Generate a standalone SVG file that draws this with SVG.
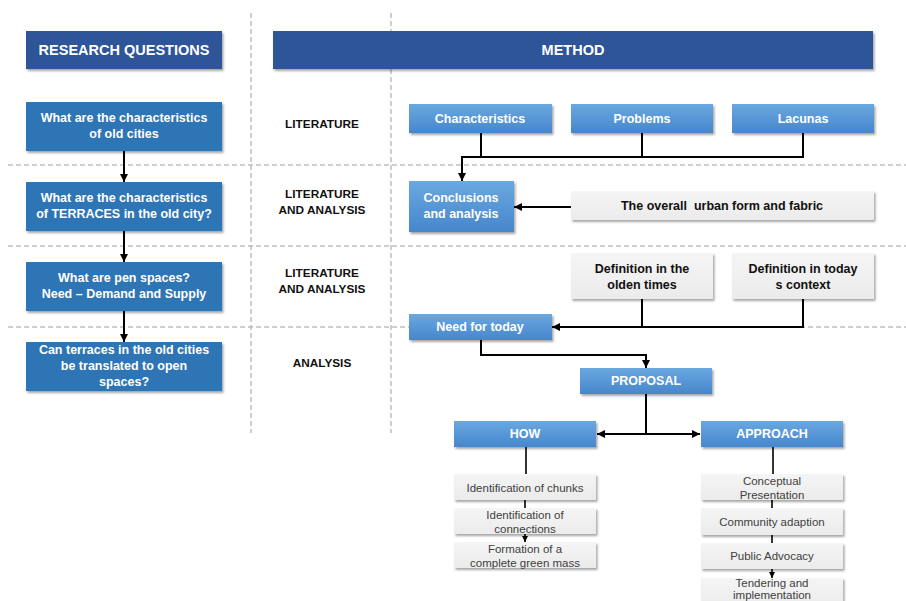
<svg xmlns="http://www.w3.org/2000/svg" width="906" height="601" viewBox="0 0 906 601">
<defs>
<linearGradient id="gBlue" x1="0" y1="0" x2="0" y2="1">
<stop offset="0" stop-color="#6AA8E0"/>
<stop offset="1" stop-color="#4686CC"/>
</linearGradient>
<linearGradient id="gGray" x1="0" y1="0" x2="0" y2="1">
<stop offset="0" stop-color="#F5F5F5"/>
<stop offset="1" stop-color="#EBEBEB"/>
</linearGradient>
<filter id="sh" x="-10%" y="-20%" width="130%" height="160%">
<feDropShadow dx="1.5" dy="2" stdDeviation="1.3" flood-color="#000" flood-opacity="0.35"/>
</filter>
<marker id="ah" viewBox="0 0 10 10" refX="10" refY="5" markerWidth="4" markerHeight="4" orient="auto" markerUnits="strokeWidth">
<path d="M0 0 L10 5 L0 10 z" fill="#000"/>
</marker>
</defs>
<style>
.hdr{fill:#2F5597;filter:url(#sh)}
.q{fill:#2E75B6;filter:url(#sh)}
.b{fill:url(#gBlue);filter:url(#sh)}
.g{fill:url(#gGray);filter:url(#sh)}
.wt{font-family:"Liberation Sans",Arial,sans-serif;font-weight:bold;fill:#fff;text-anchor:middle;font-size:12.5px}
.ht{font-family:"Liberation Sans",Arial,sans-serif;font-weight:bold;fill:#fff;text-anchor:middle;font-size:14.5px}
.kt{font-family:"Liberation Sans",Arial,sans-serif;font-weight:bold;fill:#111;text-anchor:middle;font-size:12.5px}
.mt{font-family:"Liberation Sans",Arial,sans-serif;font-weight:bold;fill:#111;text-anchor:middle;font-size:11.8px}
.nt{font-family:"Liberation Sans",Arial,sans-serif;fill:#404040;text-anchor:middle;font-size:11.5px}
.dash{stroke:#BFBFBF;stroke-width:1.5;stroke-dasharray:5,3;fill:none}
.c{stroke:#000;stroke-width:2;fill:none}
.cs{stroke:#000;stroke-width:1.6;fill:none}
</style>
<rect width="906" height="601" fill="#fff"/>
<g id="grid">
<line class="dash" x1="251" y1="13" x2="251" y2="433"/>
<line class="dash" x1="391" y1="13" x2="391" y2="433"/>
<line class="dash" x1="8" y1="165" x2="906" y2="165"/>
<line class="dash" x1="8" y1="246" x2="906" y2="246"/>
<line class="dash" x1="8" y1="327" x2="906" y2="327"/>
</g>
<g id="hdr-rq"><rect class="hdr" x="26" y="31" width="196" height="38"/><text class="ht" x="124" y="55">RESEARCH QUESTIONS</text></g>
<g id="hdr-method"><rect class="hdr" x="273" y="31" width="600" height="38"/><text class="ht" x="573" y="55">METHOD</text></g>
<g id="q1"><rect class="q" x="26" y="102" width="196" height="49"/><text class="wt" x="124" y="122">What are the characteristics</text><text class="wt" x="124" y="138">of old cities</text></g>
<g id="q2"><rect class="q" x="26" y="182" width="196" height="49"/><text class="wt" x="124" y="202">What are the characteristics</text><text class="wt" x="124" y="218">of TERRACES in the old city?</text></g>
<g id="q3"><rect class="q" x="26" y="262" width="196" height="49"/><text class="wt" x="124" y="282">What are pen spaces?</text><text class="wt" x="124" y="298">Need – Demand and Supply</text></g>
<g id="q4"><rect class="q" x="26" y="342" width="196" height="49"/><text class="wt" x="124" y="354">Can terraces in the old cities</text><text class="wt" x="124" y="370">be translated to open</text><text class="wt" x="124" y="386">spaces?</text></g>
<g id="lab1"><text class="mt" x="322" y="128">LITERATURE</text></g>
<g id="lab2"><text class="mt" x="322" y="198">LITERATURE</text><text class="mt" x="322" y="214">AND ANALYSIS</text></g>
<g id="lab3"><text class="mt" x="322" y="277">LITERATURE</text><text class="mt" x="322" y="293">AND ANALYSIS</text></g>
<g id="lab4"><text class="mt" x="322" y="367">ANALYSIS</text></g>
<g id="characteristics"><rect class="b" x="409" y="104" width="143" height="29"/><text class="wt" x="480" y="123">Characteristics</text></g>
<g id="problems"><rect class="b" x="571" y="104" width="142" height="29"/><text class="wt" x="642" y="123">Problems</text></g>
<g id="lacunas"><rect class="b" x="732" y="104" width="142" height="29"/><text class="wt" x="803" y="123">Lacunas</text></g>
<g id="conclusions"><rect class="b" x="409" y="181" width="105" height="51"/><text class="wt" x="461" y="202">Conclusions</text><text class="wt" x="461" y="218">and analysis</text></g>
<g id="urban"><rect class="g" x="571" y="191" width="303" height="29"/><text class="kt" x="722" y="210">The overall&#160; urban form and fabric</text></g>
<g id="def-old"><rect class="g" x="571" y="253" width="142" height="46"/><text class="kt" x="642" y="273">Definition in the</text><text class="kt" x="642" y="289">olden times</text></g>
<g id="def-today"><rect class="g" x="732" y="253" width="142" height="46"/><text class="kt" x="803" y="273">Definition in today</text><text class="kt" x="803" y="289">s context</text></g>
<g id="need"><rect class="b" x="409" y="314" width="143" height="26"/><text class="wt" x="480" y="331">Need for today</text></g>
<g id="proposal"><rect class="b" x="580" y="368" width="132" height="26"/><text class="wt" x="646" y="385">PROPOSAL</text></g>
<g id="how"><rect class="b" x="454" y="421" width="142" height="26"/><text class="wt" x="525" y="438">HOW</text></g>
<g id="approach"><rect class="b" x="701" y="421" width="142" height="26"/><text class="wt" x="772" y="438">APPROACH</text></g>
<g id="chunks"><rect class="g" x="454" y="474" width="142" height="26"/><text class="nt" x="525" y="492">Identification of chunks</text></g>
<g id="connections"><rect class="g" x="454" y="508" width="142" height="26"/><text class="nt" x="525" y="519">Identification of</text><text class="nt" x="525" y="533">connections</text></g>
<g id="formation"><rect class="g" x="454" y="542" width="142" height="26"/><text class="nt" x="525" y="553">Formation of a</text><text class="nt" x="525" y="567">complete green mass</text></g>
<g id="conceptual"><rect class="g" x="701" y="474" width="142" height="26"/><text class="nt" x="772" y="485">Conceptual</text><text class="nt" x="772" y="499">Presentation</text></g>
<g id="community"><rect class="g" x="701" y="508" width="142" height="27"/><text class="nt" x="772" y="526">Community adaption</text></g>
<g id="advocacy"><rect class="g" x="701" y="543" width="142" height="26"/><text class="nt" x="772" y="560">Public Advocacy</text></g>
<g id="tendering"><rect class="g" x="701" y="578" width="142" height="30"/><text class="nt" x="772" y="587">Tendering and</text><text class="nt" x="772" y="599">implementation</text></g>
<g id="connectors">
<path class="c" d="M124 151 V182" marker-end="url(#ah)"/>
<path class="c" d="M124 231 V262" marker-end="url(#ah)"/>
<path class="c" d="M124 311 V342" marker-end="url(#ah)"/>
<path class="c" d="M481 133 V157"/>
<path class="c" d="M642 133 V157"/>
<path class="c" d="M803 133 V157 H462 V181" marker-end="url(#ah)"/>
<path class="c" d="M571 207 H514" marker-end="url(#ah)"/>
<path class="c" d="M642 299 V327"/>
<path class="c" d="M803 299 V327 H552" marker-end="url(#ah)"/>
<path class="c" d="M481 340 V355 H646 V368" marker-end="url(#ah)"/>
<path class="c" d="M646 394 V434"/>
<path class="c" d="M646 434 H597" marker-end="url(#ah)"/>
<path class="c" d="M646 434 H700" marker-end="url(#ah)"/>
<path class="cs" d="M526 447 V474"/>
<path class="cs" d="M525 500 V508"/>
<path class="cs" d="M525 534 V542" marker-end="url(#ah)"/>
<path class="cs" d="M773 447 V474"/>
<path class="cs" d="M772 500 V508"/>
<path class="cs" d="M772 535 V543"/>
<path class="cs" d="M772 569 V578" marker-end="url(#ah)"/>
</g>
</svg>
